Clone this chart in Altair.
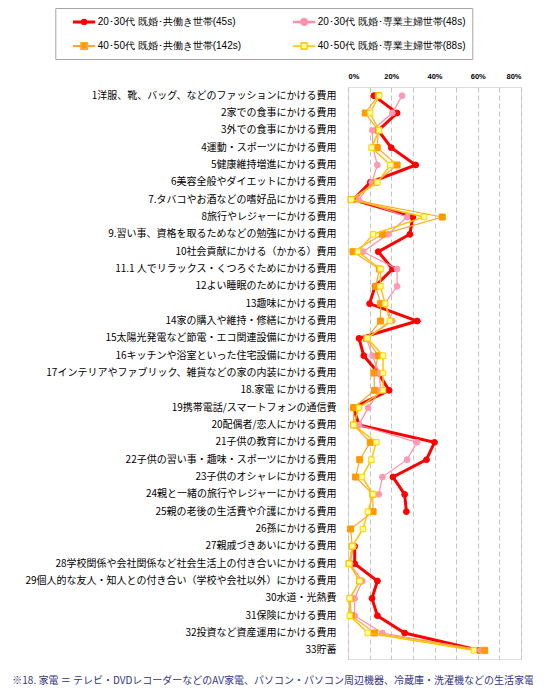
import altair as alt
import pandas as pd

categories = [
    "1洋服、靴、バッグ、などのファッションにかける費用",
    "2家での食事にかける費用",
    "3外での食事にかける費用",
    "4運動・スポーツにかける費用",
    "5健康維持増進にかける費用",
    "6美容全般やダイエットにかける費用",
    "7.タバコやお酒などの嗜好品にかける費用",
    "8旅行やレジャーにかける費用",
    "9.習い事、資格を取るためなどの勉強にかける費用",
    "10社会貢献にかける（かかる）費用",
    "11.1 人でリラックス・くつろぐためにかける費用",
    "12よい睡眠のためにかける費用",
    "13趣味にかける費用",
    "14家の購入や維持・修繕にかける費用",
    "15太陽光発電など節電・エコ関連設備にかける費用",
    "16キッチンや浴室といった住宅設備にかける費用",
    "17インテリアやファブリック、雑貨などの家の内装にかける費用",
    "18.家電 にかける費用",
    "19携帯電話/スマートフォンの通信費",
    "20配偶者/恋人にかける費用",
    "21子供の教育にかける費用",
    "22子供の習い事・趣味・スポーツにかける費用",
    "23子供のオシャレにかける費用",
    "24親と一緒の旅行やレジャーにかける費用",
    "25親の老後の生活費や介護にかける費用",
    "26孫にかける費用",
    "27親戚づきあいにかける費用",
    "28学校関係や会社関係など社会生活上の付き合いにかける費用",
    "29個人的な友人・知人との付き合い（学校や会社以外）にかける費用",
    "30水道・光熱費",
    "31保険にかける費用",
    "32投資など資産運用にかける費用",
    "33貯蓄",
]

series_names = [
    "20･30代 既婚･共働き世帯(45s)",
    "20･30代 既婚･専業主婦世帯(48s)",
    "40･50代 既婚･共働き世帯(142s)",
    "40･50代 既婚･専業主婦世帯(88s)",
]

red_values = [12.0, 22.7, 14.0, 20.0, 31.3, 10.3, 2.5, 30.0, 28.6, 14.0, 20.6, 12.5, 10.0,
              32.0, 5.1, 7.3, 14.0, 19.0, 2.5, 5.1, 40.0, 36.3, 20.8, 26.2, 27.0, None,
              3.1, 3.1, 13.6, 11.1, 13.6, 26.2, 60.5]
pink_values = [25.0, 20.5, 11.2, 11.5, 13.6, 11.0, 4.9, 27.3, 18.5, 7.0, 22.7, 22.7, 17.0,
               20.5, 8.5, 11.3, 14.5, 15.0, 9.3, 5.1, 31.9, 27.3, 15.9, 14.3, None, None,
               2.5, 1.0, 6.6, 3.1, 3.1, 15.9, 61.2]
orange_values = [14.0, 8.0, 14.0, 13.5, 22.7, 13.0, 1.4, 43.6, 15.9, 2.3, 14.5, 12.8, 15.1,
                 15.0, 8.5, 14.0, 12.0, 12.3, 2.6, 2.6, 10.3, 5.4, 3.5, 11.5, 11.6, 1.2,
                 2.0, 0.5, 5.4, 1.0, 1.5, 12.3, 63.2]
yellow_values = [14.4, 10.2, 14.4, 10.9, 19.6, 13.6, 1.5, 35.2, 11.6, 4.6, 15.0, 15.0, 17.2,
                 19.4, 9.0, 16.2, 16.2, 16.2, 5.1, 2.6, 13.1, 10.8, 6.5, 11.6, 9.2, 6.9,
                 2.0, 0.6, 5.4, 0.8, 0.8, 9.2, 58.2]

x_ticks = [0, 10, 20, 30, 40, 50, 60, 70, 80]

footnote = "※18. 家電 ＝ テレビ・DVDレコーダーなどのAV家電、パソコン・パソコン周辺機器、冷蔵庫・洗濯機などの生活家電"

# ---- build long table ----
rows = []
for name, vals in zip(series_names, [red_values, pink_values, orange_values, yellow_values]):
    for i, (c, v) in enumerate(zip(categories, vals)):
        rows.append({"cat": c, "idx": i, "series": name, "value": v})
df = pd.DataFrame(rows)

# ---- styles ----
styles = [
    dict(line="#FF0000", lw=3.0, shape="circle", fill="#FF0000", stroke="#FF0000", sw=1, size=34),
    dict(line="#FF8FA6", lw=1.2, shape="circle", fill="#FF99B5", stroke="#FF99B5", sw=1, size=34),
    dict(line="#FFA830", lw=1.2, shape="square", fill="#FF9900", stroke="#FF9900", sw=1, size=36),
    dict(line="#FFC400", lw=1.5, shape="square", fill="#FFFF99", stroke="#FFD200", sw=1, size=30),
]


def seg_circle(c, r):
    return (f"M0.7,0L{c - r:.3f},0M{c + r:.3f},0L4.4,0"
            f"M{c - r:.3f},0A{r},{r},0,1,1,{c + r:.3f},0A{r},{r},0,1,1,{c - r:.3f},0Z")


def seg_square(c, h):
    return (f"M0.7,0L{c - h:.3f},0M{c + h:.3f},0L4.4,0"
            f"M{c - h:.3f},{-h}L{c + h:.3f},{-h}L{c + h:.3f},{h}L{c - h:.3f},{h}Z")


legend_paths = [seg_circle(2.55, 0.29), seg_circle(2.55, 0.46), seg_square(2.55, 0.5), seg_square(2.55, 0.5)]

W, H = 173, 572

x_scale = alt.Scale(domain=[0, 80], nice=False, zero=True)
y_scale = alt.Scale(type="band", domain=categories, paddingInner=0, paddingOuter=0)

x_axis = alt.Axis(orient="top", values=x_ticks, labelExpr="datum.value + '%'", title=None,
                  domain=False, ticks=False, grid=True, gridDash=[5, 3], gridColor="#C4C4C4",
                  labelFont="Liberation Sans", labelFontSize=7.5, labelFontWeight="bold",
                  labelColor="#000000", labelPadding=7)
y_axis = alt.Axis(orient="left", title=None, domain=False, ticks=False, grid=False,
                  labelFont="Noto Sans CJK JP", labelFontSize=10, labelColor="#000000",
                  labelLimit=400, labelPadding=12)


def xe():
    return alt.X("value:Q", scale=x_scale, axis=x_axis)


def ye():
    return alt.Y("cat:N", sort=categories, scale=y_scale, bandPosition=0.5, axis=y_axis)


base = alt.Chart(df)

layers = []
for name, st in zip(series_names, styles):
    sub = base.transform_filter(alt.datum.series == name)
    line = sub.mark_line(
        color=st["line"], strokeWidth=st["lw"], invalid="break-paths-filter-domains"
    ).encode(x=xe(), y=ye(), order=alt.Order("idx:Q"))
    pts = sub.mark_point(
        shape=st["shape"], filled=True, fill=st["fill"], stroke=st["stroke"],
        strokeWidth=st["sw"], size=st["size"], opacity=1
    ).encode(x=xe(), y=ye())
    layers += [line, pts]

leg = alt.Legend(orient="none", legendX=-292.7, legendY=-79, columns=2, direction="horizontal",
                 title=None, symbolSize=144, labelOffset=21.4, padding=6, rowPadding=9,
                 columnPadding=40, strokeColor="#A6A6A6", fillColor="#FFFFFF", labelLimit=300,
                 symbolOpacity=1)

legend_layer = base.transform_filter("false").mark_point(filled=True, opacity=1, size=144).encode(
    x=xe(),
    y=ye(),
    shape=alt.Shape("series:N", scale=alt.Scale(domain=series_names, range=legend_paths), legend=leg),
    fill=alt.Fill("series:N", scale=alt.Scale(domain=series_names, range=[s["fill"] for s in styles]), legend=leg),
    stroke=alt.Stroke("series:N", scale=alt.Scale(domain=series_names, range=[s["line"] for s in styles]), legend=leg),
    strokeWidth=alt.StrokeWidth("series:N", scale=alt.Scale(domain=series_names, range=[3.0, 1.3, 1.3, 1.5]), legend=leg),
)

chart = alt.layer(*layers, legend_layer).properties(
    width=W, height=H,
    autosize=alt.AutoSizeParams(type="none"),
    padding={"left": 340, "top": 79, "right": 12, "bottom": 33},
    title=alt.TitleParams(text=footnote, orient="bottom", anchor="start", frame="group",
                          dx=-335.7, offset=17, fontSize=10, font="Noto Sans CJK JP",
                          fontWeight="normal", color="#333380"),
).configure_view(
    stroke="#A6A6A6", strokeWidth=1
).configure_legend(
    labelFont="Noto Sans CJK JP", labelFontSize=11, labelColor="#000000"
).configure(background="#FFFFFF")

chart.save("out.html", embed_options={"renderer": "svg", "actions": False})
